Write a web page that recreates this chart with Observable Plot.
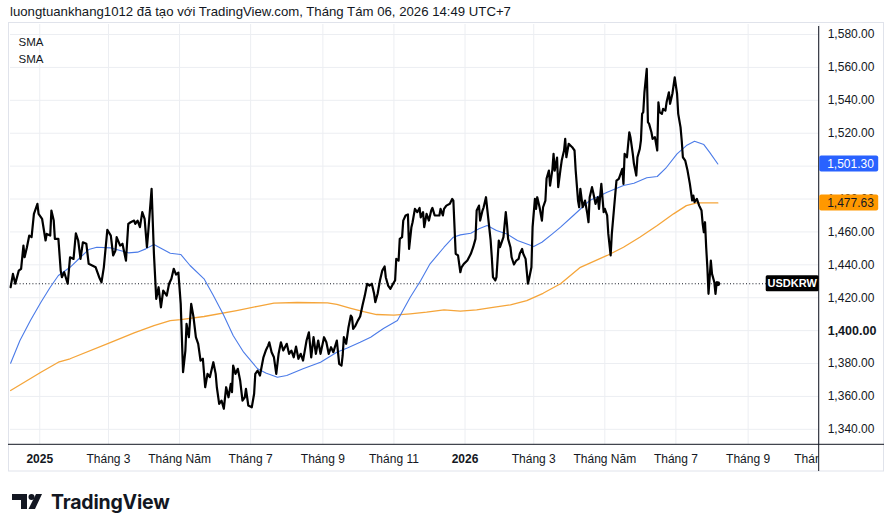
<!DOCTYPE html>
<html>
<head>
<meta charset="utf-8">
<script src="https://cdn.jsdelivr.net/npm/d3@7"></script>
<script src="https://cdn.jsdelivr.net/npm/@observablehq/plot@0.6"></script>
<style>
  html, body { margin: 0; padding: 0; background: #fff; }
  body { width: 894px; height: 532px; overflow: hidden; position: relative; color: #131722; font-family: "Liberation Sans", Arial, sans-serif; }
  #title { position: absolute; left: 10px; top: 4px; font-size: 13.2px; white-space: nowrap; }
  #chart { position: absolute; left: 0; top: 22px; }
  #logo { position: absolute; left: 12px; top: 490px; display: flex; align-items: center; }
  #logo span { font-family: Inter, "Noto Sans", sans-serif; font-weight: 700; font-size: 19.5px; letter-spacing: -0.2px; margin-left: 9px; color: #131722; }
</style>
</head>
<body>
<div id="title">luongtuankhang1012 đã tạo với TradingView.com, Tháng Tám 06, 2026 14:49 UTC+7</div>
<div id="chart"></div>
<div id="logo">
  <svg width="30" height="16" viewBox="0 0 30 16">
    <path d="M0 0 H15 V15 H9 V6 H0 Z" fill="#131722"/>
    <circle cx="19.5" cy="3" r="3" fill="#131722"/>
    <path d="M24 0 H30 L23 15 H16.5 Z" fill="#131722"/>
  </svg>
  <span>TradingView</span>
</div>
<script>
// ---- data ----
const priceDates = ["2024-12-07","2024-12-09","2024-12-11","2024-12-14","2024-12-16","2024-12-18","2024-12-19","2024-12-21","2024-12-23","2024-12-25","2024-12-27","2024-12-28","2024-12-30","2024-12-31","2025-01-03","2025-01-06","2025-01-07","2025-01-10","2025-01-11","2025-01-13","2025-01-14","2025-01-17","2025-01-19","2025-01-20","2025-01-22","2025-01-25","2025-01-27","2025-01-30","2025-02-01","2025-02-03","2025-02-05","2025-02-07","2025-02-10","2025-02-12","2025-02-15","2025-02-18","2025-02-21","2025-02-23","2025-02-25","2025-02-28","2025-03-03","2025-03-05","2025-03-07","2025-03-08","2025-03-11","2025-03-13","2025-03-16","2025-03-18","2025-03-20","2025-03-23","2025-03-24","2025-03-26","2025-03-28","2025-03-30","2025-04-01","2025-04-03","2025-04-04","2025-04-07","2025-04-09","2025-04-11","2025-04-13","2025-04-15","2025-04-17","2025-04-20","2025-04-22","2025-04-24","2025-04-26","2025-04-28","2025-04-30","2025-05-02","2025-05-04","2025-05-06","2025-05-07","2025-05-09","2025-05-11","2025-05-13","2025-05-15","2025-05-17","2025-05-19","2025-05-21","2025-05-23","2025-05-25","2025-05-27","2025-05-30","2025-06-01","2025-06-02","2025-06-04","2025-06-06","2025-06-08","2025-06-10","2025-06-12","2025-06-14","2025-06-15","2025-06-16","2025-06-18","2025-06-20","2025-06-22","2025-06-24","2025-06-26","2025-06-27","2025-06-29","2025-07-02","2025-07-04","2025-07-05","2025-07-07","2025-07-09","2025-07-12","2025-07-14","2025-07-16","2025-07-17","2025-07-19","2025-07-21","2025-07-23","2025-07-25","2025-07-27","2025-07-29","2025-08-01","2025-08-03","2025-08-05","2025-08-07","2025-08-09","2025-08-11","2025-08-13","2025-08-15","2025-08-18","2025-08-20","2025-08-22","2025-08-24","2025-08-26","2025-08-28","2025-08-30","2025-09-02","2025-09-04","2025-09-06","2025-09-08","2025-09-10","2025-09-13","2025-09-15","2025-09-17","2025-09-18","2025-09-19","2025-09-21","2025-09-23","2025-09-25","2025-09-26","2025-09-27","2025-09-29","2025-10-01","2025-10-03","2025-10-05","2025-10-07","2025-10-09","2025-10-11","2025-10-13","2025-10-15","2025-10-16","2025-10-18","2025-10-20","2025-10-22","2025-10-24","2025-10-25","2025-10-27","2025-10-29","2025-11-01","2025-11-02","2025-11-03","2025-11-05","2025-11-06","2025-11-08","2025-11-09","2025-11-11","2025-11-13","2025-11-14","2025-11-16","2025-11-17","2025-11-19","2025-11-21","2025-11-23","2025-11-24","2025-11-26","2025-11-27","2025-11-29","2025-12-01","2025-12-03","2025-12-04","2025-12-06","2025-12-08","2025-12-10","2025-12-11","2025-12-13","2025-12-14","2025-12-16","2025-12-19","2025-12-21","2025-12-22","2025-12-24","2025-12-26","2025-12-28","2025-12-29","2025-12-31","2026-01-03","2026-01-06","2026-01-08","2026-01-10","2026-01-11","2026-01-13","2026-01-14","2026-01-16","2026-01-17","2026-01-19","2026-01-21","2026-01-23","2026-01-24","2026-01-25","2026-01-27","2026-01-28","2026-01-30","2026-01-31","2026-02-03","2026-02-05","2026-02-06","2026-02-07","2026-02-09","2026-02-10","2026-02-12","2026-02-14","2026-02-16","2026-02-17","2026-02-19","2026-02-20","2026-02-22","2026-02-24","2026-02-25","2026-02-27","2026-02-28","2026-03-02","2026-03-03","2026-03-04","2026-03-06","2026-03-08","2026-03-09","2026-03-11","2026-03-12","2026-03-14","2026-03-15","2026-03-17","2026-03-18","2026-03-19","2026-03-21","2026-03-22","2026-03-24","2026-03-25","2026-03-27","2026-03-28","2026-03-29","2026-03-31","2026-04-03","2026-04-05","2026-04-06","2026-04-08","2026-04-09","2026-04-10","2026-04-12","2026-04-14","2026-04-16","2026-04-17","2026-04-18","2026-04-20","2026-04-21","2026-04-23","2026-04-25","2026-04-26","2026-04-28","2026-04-30","2026-05-01","2026-05-03","2026-05-04","2026-05-06","2026-05-07","2026-05-09","2026-05-11","2026-05-13","2026-05-14","2026-05-16","2026-05-17","2026-05-18","2026-05-20","2026-05-22","2026-05-23","2026-05-25","2026-05-26","2026-05-28","2026-05-29","2026-05-31","2026-06-01","2026-06-02","2026-06-03","2026-06-04","2026-06-06","2026-06-07","2026-06-08","2026-06-10","2026-06-11","2026-06-13","2026-06-15","2026-06-16","2026-06-17","2026-06-19","2026-06-20","2026-06-22","2026-06-23","2026-06-25","2026-06-26","2026-06-28","2026-06-30","2026-07-02","2026-07-03","2026-07-05","2026-07-06","2026-07-07","2026-07-09","2026-07-11","2026-07-13","2026-07-15","2026-07-16","2026-07-17","2026-07-19","2026-07-21","2026-07-23","2026-07-24","2026-07-25","2026-07-26","2026-07-27","2026-07-28","2026-07-29","2026-07-31","2026-08-01","2026-08-03","2026-08-04","2026-08-05","2026-08-06"];
const priceValues = [1426.4,1434.5,1428.5,1436.5,1437.6,1451.7,1444.6,1450.7,1457.8,1456.8,1471.0,1473.0,1477.1,1471.0,1468.0,1454.8,1458.8,1457.8,1473.0,1466.9,1455.8,1455.8,1436.5,1432.5,1435.5,1428.5,1444.6,1443.6,1459.2,1454.8,1443.6,1453.7,1452.8,1440.6,1439.6,1438.5,1432.5,1429.4,1438.5,1461.3,1457.8,1445.7,1448.7,1456.8,1451.7,1452.8,1442.6,1464.9,1465.9,1466.9,1464.9,1466.9,1462.9,1472.0,1468.0,1450.7,1458.8,1486.2,1446.7,1419.3,1426.4,1414.2,1424.4,1421.3,1428.5,1431.5,1437.6,1434.1,1435.3,1416.3,1374.7,1387.9,1404.1,1396.0,1416.3,1408.1,1396.0,1392.0,1381.8,1382.9,1365.6,1373.7,1371.7,1380.8,1373.7,1365.6,1355.5,1357.5,1352.5,1365.6,1359.5,1367.7,1362.6,1378.8,1373.7,1376.8,1369.7,1357.5,1359.5,1364.6,1354.5,1353.4,1361.6,1373.7,1375.7,1372.7,1383.8,1387.9,1390.9,1392.9,1386.9,1383.8,1373.7,1385.9,1392.9,1387.9,1392.0,1385.9,1387.9,1383.8,1390.3,1382.9,1385.9,1381.8,1394.0,1399.0,1383.8,1396.0,1385.9,1394.0,1385.9,1396.0,1392.9,1385.9,1389.9,1386.9,1394.0,1379.8,1378.8,1384.9,1396.0,1392.0,1402.1,1409.2,1408.1,1401.1,1403.1,1406.1,1408.6,1415.3,1421.3,1428.5,1427.4,1428.5,1422.4,1417.3,1422.4,1430.5,1436.5,1439.0,1432.5,1427.4,1425.4,1429.4,1430.5,1443.6,1442.6,1455.8,1456.8,1466.9,1470.0,1470.6,1449.7,1462.9,1465.9,1474.0,1472.0,1474.6,1468.9,1472.0,1462.9,1471.0,1466.9,1473.0,1474.6,1470.0,1470.0,1470.0,1474.0,1470.0,1474.0,1476.0,1477.1,1480.1,1479.1,1446.7,1445.7,1435.5,1438.5,1440.6,1442.6,1446.7,1450.7,1455.8,1473.0,1476.0,1466.9,1473.0,1475.0,1481.1,1468.0,1454.8,1444.6,1432.5,1430.5,1432.5,1454.8,1450.7,1456.8,1472.0,1464.9,1455.8,1450.7,1444.6,1440.2,1442.6,1443.6,1446.7,1449.7,1446.7,1443.6,1428.5,1431.5,1438.5,1462.9,1480.1,1474.0,1481.1,1475.0,1466.9,1475.0,1479.1,1492.5,1497.3,1488.2,1497.9,1507.5,1497.3,1505.2,1487.2,1498.4,1503.4,1509.5,1516.6,1505.4,1513.6,1511.5,1509.5,1497.3,1479.1,1475.0,1486.2,1475.0,1479.1,1471.0,1465.9,1481.1,1487.2,1484.1,1477.1,1481.1,1474.0,1489.2,1472.0,1474.0,1470.0,1458.8,1445.7,1458.8,1475.0,1491.2,1492.3,1494.3,1498.4,1489.2,1507.5,1505.4,1520.6,1517.6,1507.5,1501.4,1494.3,1505.4,1510.5,1515.6,1531.8,1532.8,1544.9,1559.1,1526.7,1525.7,1520.6,1516.6,1517.6,1509.5,1538.8,1532.8,1531.8,1534.8,1533.8,1538.8,1544.9,1537.9,1544.0,1554.0,1544.0,1531.8,1523.6,1515.6,1505.4,1503.4,1497.3,1489.2,1479.1,1482.1,1478.1,1480.1,1476.0,1473.0,1464.9,1459.8,1465.9,1450.7,1438.5,1422.4,1442.6,1434.5,1429.4,1422.4,1429.4,1428.5];

const smaFastDates = ["2024-12-07","2024-12-15","2024-12-24","2025-01-02","2025-01-10","2025-01-17","2025-01-27","2025-02-05","2025-02-12","2025-02-19","2025-03-03","2025-03-11","2025-03-18","2025-03-26","2025-04-02","2025-04-09","2025-04-17","2025-04-23","2025-05-02","2025-05-10","2025-05-22","2025-05-30","2025-06-08","2025-06-16","2025-06-25","2025-07-07","2025-07-14","2025-07-24","2025-08-01","2025-08-15","2025-08-30","2025-09-13","2025-09-22","2025-10-03","2025-10-12","2025-10-23","2025-11-04","2025-11-15","2025-11-24","2025-12-02","2025-12-14","2025-12-22","2025-12-28","2026-01-06","2026-01-13","2026-01-20","2026-01-28","2026-02-06","2026-02-15","2026-03-01","2026-03-08","2026-03-17","2026-03-24","2026-04-04","2026-04-18","2026-05-03","2026-05-17","2026-05-26","2026-06-06","2026-06-15","2026-06-23","2026-07-02","2026-07-10","2026-07-17","2026-07-25","2026-07-30","2026-08-06"];
const smaFastValues = [1380.2,1394.0,1406.1,1417.3,1426.4,1433.5,1438.5,1444.6,1449.3,1450.7,1450.3,1448.7,1447.3,1447.7,1449.7,1452.3,1449.3,1447.0,1446.3,1439.6,1431.5,1421.3,1409.2,1397.0,1386.9,1376.8,1374.3,1371.7,1372.7,1376.8,1380.8,1386.9,1389.5,1392.9,1396.0,1401.3,1406.1,1420.3,1430.5,1440.6,1450.7,1456.8,1458.2,1459.2,1461.9,1463.9,1460.9,1458.8,1454.8,1451.1,1453.7,1458.8,1462.9,1470.0,1479.1,1484.1,1488.2,1489.6,1492.9,1493.7,1499.3,1507.5,1512.5,1515.1,1513.1,1508.4,1501.30];

const smaSlowDates = ["2024-12-07","2025-01-02","2025-01-17","2025-01-27","2025-03-03","2025-03-23","2025-04-09","2025-04-23","2025-05-02","2025-05-22","2025-06-19","2025-07-07","2025-07-21","2025-08-10","2025-09-05","2025-09-13","2025-09-25","2025-10-06","2025-10-17","2025-11-01","2025-11-15","2025-11-29","2025-12-14","2025-12-28","2026-01-11","2026-01-25","2026-02-09","2026-02-23","2026-03-09","2026-03-24","2026-04-10","2026-05-03","2026-05-17","2026-05-31","2026-06-15","2026-06-29","2026-07-10","2026-07-19","2026-08-06"];
const smaSlowValues = [1363.6,1374.7,1380.8,1382.9,1392.9,1398.7,1403.1,1406.1,1406.7,1408.6,1412.2,1414.8,1416.7,1417.1,1416.9,1415.9,1413.6,1411.6,1409.8,1409.4,1410.2,1411.2,1412.6,1411.8,1412.6,1414.2,1415.7,1418.3,1422.7,1428.5,1438.5,1445.7,1450.7,1456.8,1463.9,1471.0,1476.0,1477.7,1477.63];

const yTicks = [1340,1360,1380,1400,1420,1440,1460,1480,1500,1520,1540,1560,1580];
const monthTickDates = ["2025-01-01","2025-03-01","2025-05-01","2025-07-01","2025-09-01","2025-11-01","2026-01-01","2026-03-01","2026-05-01","2026-07-01","2026-09-01","2026-11-01"];
const monthTickLabels = ["2025","Tháng 3","Tháng Năm","Tháng 7","Tháng 9","Tháng 11","2026","Tháng 3","Tháng Năm","Tháng 7","Tháng 9","Tháng 11"];
const symbolName = "USDKRW";
const legendNames = ["SMA","SMA"];

// ---- build tables ----
const parse = d3.utcParse("%Y-%m-%d");
const price = priceDates.map((d, i) => ({date: parse(d), value: priceValues[i]}));
const smaFast = smaFastDates.map((d, i) => ({date: parse(d), value: smaFastValues[i]}));
const smaSlow = smaSlowDates.map((d, i) => ({date: parse(d), value: smaSlowValues[i]}));
const ticks = monthTickDates.map((d, i) => ({date: parse(d), label: monthTickLabels[i], year: /^\d{4}$/.test(monthTickLabels[i])}));
const labelOf = new Map(ticks.map(t => [+t.date, t.label]));
const lastPrice = priceValues[priceValues.length - 1];
const lastFast = smaFastValues[smaFastValues.length - 1];
const lastSlow = smaSlowValues[smaSlowValues.length - 1];
const fmt = d3.format(",.2f");

const W = 894, H = 450, mL = 10, mR = 75.3, mT = 2, mB = 27.7;
const font = '"Liberation Sans", Arial, sans-serif';
const grid = "#eceef2";
const ink = "#131722";
const xDomain = [new Date("2024-12-06T21:36:00Z"), parse("2026-11-01")];
const yDomain = [1330.6, 1586.1];
// price-axis labels hidden under the last-value tag of the fast SMA
const hiddenTicks = [1500];

const chart = Plot.plot({
  width: W, height: H,
  marginLeft: mL, marginRight: mR, marginTop: mT, marginBottom: mB,
  style: {fontFamily: font, fontSize: "12px", color: ink, background: "transparent", overflow: "visible"},
  x: {type: "utc", domain: xDomain},
  y: {domain: yDomain},
  marks: [
    Plot.ruleY(yTicks, {stroke: grid, strokeWidth: 1}),
    Plot.ruleX(ticks, {x: "date", stroke: grid, strokeWidth: 1}),
    Plot.ruleY([lastPrice], {stroke: ink, strokeWidth: 1, strokeDasharray: "1,2.2"}),
    Plot.line(smaSlow, {x: "date", y: "value", stroke: "#f5a53a", strokeWidth: 1.3}),
    Plot.line(smaFast, {x: "date", y: "value", stroke: "#4b7be8", strokeWidth: 1.1}),
    Plot.line(price, {x: "date", y: "value", stroke: "#000", strokeWidth: 2.2, strokeLinejoin: "round"}),
    Plot.dot([price[price.length - 1]], {x: "date", y: "value", r: 2.4, fill: "#000"}),
    Plot.axisY({anchor: "right", ticks: yTicks.filter(v => v !== 1400 && !hiddenTicks.includes(v)), tickSize: 0, tickPadding: 8.5, tickFormat: fmt, label: null, fontSize: 12, fill: ink}),
    Plot.axisY({anchor: "right", ticks: [1400], tickSize: 0, tickPadding: 8.5, tickFormat: fmt, label: null, fontSize: 12.5, fontWeight: "bold", fill: ink}),
    Plot.axisX({ticks: ticks.filter(t => !t.year).map(t => t.date), tickFormat: d => labelOf.get(+d), tickSize: 0, tickPadding: 9.5, label: null, fontSize: 12, fill: ink}),
    Plot.axisX({ticks: ticks.filter(t => t.year).map(t => t.date), tickFormat: d => labelOf.get(+d), tickSize: 0, tickPadding: 9.5, label: null, fontSize: 12, fontWeight: "bold", fill: ink}),
    Plot.text([legendNames[0]], {frameAnchor: "top-left", dx: 8, dy: 18, lineAnchor: "middle", fontSize: 11.5, fill: ink}),
    Plot.text([legendNames[1]], {frameAnchor: "top-left", dx: 8, dy: 35, lineAnchor: "middle", fontSize: 11.5, fill: ink})
  ]
});
document.getElementById("chart").appendChild(chart);

// ---- price-axis decorations, positioned with the plot's own scales ----
const svg = d3.select(chart);
let yScale;
try { const s = chart.scale("y"); yScale = v => s.apply(v); } catch (e) {
  const s = d3.scaleLinear().domain(yDomain).range([H - mB, mT]); yScale = s;
}
const right = W - mR, bottom = H - mB;
// hide the part of the last month label that runs into the price axis
svg.append("rect").attr("x", right).attr("y", bottom).attr("width", 66).attr("height", H - bottom - 1).attr("fill", "#fff");
// pane border
svg.append("rect").attr("x", 8.5).attr("y", 0.5).attr("width", 875).attr("height", H - 1.5).attr("fill", "none").attr("stroke", "#e0e3eb");
// axis lines
svg.append("line").attr("x1", right).attr("x2", right).attr("y1", mT + 2).attr("y2", H - 1).attr("stroke", ink).attr("stroke-width", 1);
svg.append("line").attr("x1", 8).attr("x2", 884).attr("y1", bottom).attr("y2", bottom).attr("stroke", ink).attr("stroke-width", 1);

function valueTag(v, fill, color) {
  const y = yScale(v);
  svg.append("rect").attr("x", right + 0.5).attr("y", y - 8).attr("width", 59).attr("height", 16).attr("rx", 2).attr("fill", fill);
  svg.append("text").attr("x", right + 8.5).attr("y", y).attr("dy", "0.35em").attr("text-anchor", "start")
    .attr("font-family", font).attr("font-size", 12).attr("fill", color).text(fmt(v));
}
valueTag(lastFast, "#2962ff", "#fff");
valueTag(lastSlow, "#ff9800", ink);

// symbol tag at the last price
const yp = yScale(lastPrice);
svg.append("rect").attr("x", right - 53).attr("y", yp - 8).attr("width", 53).attr("height", 16).attr("rx", 1.5).attr("fill", "#000");
svg.append("text").attr("x", right - 26.5).attr("y", yp).attr("dy", "0.35em").attr("text-anchor", "middle").attr("font-family", font).attr("font-size", 11).attr("font-weight", "bold").attr("fill", "#fff").text(symbolName);
</script>
</body>
</html>
